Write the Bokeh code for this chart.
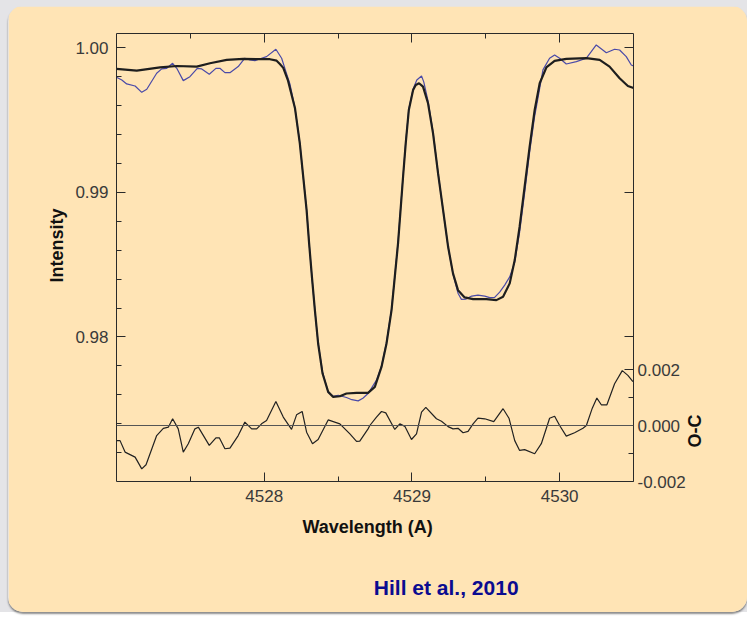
import math
from bokeh.plotting import figure
from bokeh.models import (Range1d, LinearAxis, FixedTicker, CustomJSTickFormatter,
                          NumeralTickFormatter, Span, Title, Label)
from bokeh.layouts import column
from bokeh.embed import file_html
from bokeh.resources import INLINE

# ---------------- data ----------------
wave_model = [4527.000, 4527.137, 4527.295, 4527.408, 4527.543, 4527.633, 4527.746, 4527.858,
              4528.039, 4528.084, 4528.106, 4528.129, 4528.160, 4528.208, 4528.241, 4528.264,
              4528.287, 4528.304, 4528.323, 4528.343, 4528.365, 4528.395, 4528.433, 4528.467,
              4528.512, 4528.557, 4528.625, 4528.703, 4528.749, 4528.794, 4528.828, 4528.862,
              4528.884, 4528.906, 4528.923, 4528.940, 4528.958, 4528.979, 4529.008, 4529.026,
              4529.048, 4529.075, 4529.109, 4529.143, 4529.177, 4529.211, 4529.245, 4529.278,
              4529.312, 4529.357, 4529.414, 4529.504, 4529.572, 4529.617, 4529.662, 4529.696,
              4529.729, 4529.763, 4529.797, 4529.831, 4529.865, 4529.910, 4529.966, 4530.045,
              4530.181, 4530.271, 4530.338, 4530.406, 4530.462, 4530.500]
int_model = [0.99855, 0.99843, 0.99866, 0.99875, 0.99871, 0.99894, 0.99917, 0.99924,
             0.99922, 0.99912, 0.99889, 0.99862, 0.99778, 0.99585, 0.99340, 0.99109,
             0.98878, 0.98648, 0.98416, 0.98186, 0.97955, 0.97747, 0.97620, 0.97585,
             0.97590, 0.97609, 0.97613, 0.97613, 0.97655, 0.97793, 0.97955, 0.98186,
             0.98416, 0.98648, 0.98878, 0.99109, 0.99340, 0.99571, 0.99709, 0.99744,
             0.99756, 0.99732, 0.99617, 0.99409, 0.99132, 0.98878, 0.98624, 0.98440,
             0.98324, 0.98274, 0.98262, 0.98262, 0.98255, 0.98278, 0.98371, 0.98532,
             0.98763, 0.99040, 0.99317, 0.99571, 0.99756, 0.99865, 0.99910, 0.99924,
             0.99929, 0.99917, 0.99871, 0.99790, 0.99737, 0.99723]

wave_obs = [4527.000, 4527.036, 4527.069, 4527.126, 4527.171, 4527.205, 4527.272, 4527.306,
            4527.340, 4527.380, 4527.408, 4527.452, 4527.497, 4527.547, 4527.577, 4527.628,
            4527.673, 4527.700, 4527.734, 4527.768, 4527.824, 4527.869, 4527.903, 4527.937,
            4527.982, 4528.016, 4528.079, 4528.118, 4528.143, 4528.174, 4528.208, 4528.241,
            4528.264, 4528.287, 4528.304, 4528.323, 4528.343, 4528.365, 4528.395, 4528.433,
            4528.467, 4528.501, 4528.557, 4528.593, 4528.636, 4528.668, 4528.703, 4528.760,
            4528.794, 4528.828, 4528.862, 4528.884, 4528.906, 4528.923, 4528.940, 4528.958,
            4528.979, 4529.008, 4529.033, 4529.065, 4529.080, 4529.109, 4529.143, 4529.177,
            4529.211, 4529.245, 4529.278, 4529.312, 4529.335, 4529.364, 4529.405, 4529.447,
            4529.493, 4529.527, 4529.560, 4529.594, 4529.628, 4529.662, 4529.696, 4529.729,
            4529.763, 4529.797, 4529.831, 4529.851, 4529.887, 4529.932, 4529.966, 4530.000,
            4530.045, 4530.113, 4530.181, 4530.214, 4530.248, 4530.316, 4530.372, 4530.406,
            4530.451, 4530.485, 4530.500]
int_obs = [0.99797, 0.99778, 0.99751, 0.99737, 0.99693, 0.99714, 0.99825, 0.99855,
           0.99859, 0.99894, 0.99859, 0.99774, 0.99801, 0.99859, 0.99855, 0.99818,
           0.99859, 0.99859, 0.99829, 0.99829, 0.99871, 0.99929, 0.99917, 0.99912,
           0.99929, 0.99940, 0.99991, 0.99929, 0.99848, 0.99751, 0.99585, 0.99342,
           0.99107, 0.98878, 0.98650, 0.98414, 0.98186, 0.97957, 0.97756, 0.97618,
           0.97590, 0.97597, 0.97581, 0.97566, 0.97558, 0.97576, 0.97609, 0.97701,
           0.97798, 0.97964, 0.98193, 0.98421, 0.98657, 0.98885, 0.99114, 0.99349,
           0.99578, 0.99716, 0.99778, 0.99806, 0.99765, 0.99633, 0.99418, 0.99134,
           0.98878, 0.98622, 0.98435, 0.98303, 0.98260, 0.98262, 0.98283, 0.98290,
           0.98283, 0.98272, 0.98274, 0.98310, 0.98359, 0.98416, 0.98518, 0.98726,
           0.98996, 0.99280, 0.99529, 0.99640, 0.99848, 0.99929, 0.99952, 0.99929,
           0.99889, 0.99905, 0.99929, 0.99974, 1.00021, 0.99967, 0.99991, 0.99986,
           0.99940, 0.99882, 0.99875]

wave_oc = [4527.000, 4527.024, 4527.058, 4527.126, 4527.171, 4527.200, 4527.272, 4527.317,
           4527.351, 4527.380, 4527.418, 4527.452, 4527.486, 4527.531, 4527.554, 4527.628,
           4527.673, 4527.696, 4527.734, 4527.768, 4527.824, 4527.869, 4527.915, 4527.949,
           4527.982, 4528.016, 4528.079, 4528.129, 4528.185, 4528.219, 4528.257, 4528.287,
           4528.327, 4528.365, 4528.433, 4528.512, 4528.580, 4528.625, 4528.647, 4528.703,
           4528.715, 4528.760, 4528.794, 4528.823, 4528.884, 4528.918, 4528.952, 4528.997,
           4529.031, 4529.065, 4529.094, 4529.166, 4529.200, 4529.245, 4529.278, 4529.312,
           4529.346, 4529.380, 4529.414, 4529.447, 4529.493, 4529.554, 4529.617, 4529.657,
           4529.696, 4529.729, 4529.763, 4529.831, 4529.876, 4529.932, 4529.966, 4530.000,
           4530.045, 4530.101, 4530.158, 4530.181, 4530.221, 4530.252, 4530.282, 4530.320,
           4530.372, 4530.424, 4530.462, 4530.496]
oc = [-0.00054, -0.00054, -0.00095, -0.00113, -0.00155, -0.00140, -0.00036, -0.00010,
      -0.00006, 0.00024, -0.00012, -0.00095, -0.00065, -0.00012, -0.00006, -0.00071,
      -0.00044, -0.00044, -0.00083, -0.00081, -0.00036, 0.00012, -0.00012, -0.00012,
      0.00006, 0.00018, 0.00086, 0.00030, -0.00014, 0.00038, 0.00050, -0.00024,
      -0.00065, -0.00050, 0.00020, 0.00006, -0.00030, -0.00057, -0.00056, -0.00012,
      0.00000, 0.00030, 0.00050, 0.00045, -0.00014, 0.00006, -0.00003, -0.00050,
      -0.00030, 0.00048, 0.00065, 0.00024, 0.00015, -0.00004, -0.00012, -0.00010,
      -0.00026, -0.00021, 0.00006, 0.00026, 0.00024, 0.00014, 0.00060, 0.00026,
      -0.00054, -0.00089, -0.00086, -0.00101, -0.00065, 0.00026, 0.00033, 0.00000,
      -0.00038, -0.00026, -0.00010, 0.00000, 0.00062, 0.00098, 0.00074, 0.00074,
      0.00149, 0.00196, 0.00179, 0.00157]

x_ticks = [4528, 4529, 4530]
x_minor = [4527.5, 4528.5, 4529.5]
y_ticks = [0.98, 0.99, 1.00]
y_minor = [0.972, 0.974, 0.976, 0.978, 0.982, 0.984, 0.986, 0.988,
           0.992, 0.994, 0.996, 0.998]
oc_ticks = [-0.002, 0.0, 0.002]
oc_minor = [-0.001, 0.001]

X0, X1 = 4527.0, 4530.5
Y0, Y1 = 0.970, 1.001
OC0, OC1 = -0.002, 0.014


def oc_to_int(v):
    return Y0 + (v - OC0) / (OC1 - OC0) * (Y1 - Y0)


def int_to_oc(i):
    return OC0 + (i - Y0) / (Y1 - Y0) * (OC1 - OC0)


# ---------------- style ----------------
PEACH = "#FFE4B5"
OUTER = "#E4E4E7"
FONT = "Liberation Sans"
TICK_COLOR = "#3a3a3a"
AXIS_COLOR = "#2a2a2a"
TICK_SIZE = "17px"

p = figure(frame_width=517, frame_height=448,
           min_border_left=108, min_border_right=114,
           min_border_top=27, min_border_bottom=131,
           x_range=Range1d(X0, X1), y_range=Range1d(Y0, Y1),
           output_backend="svg", toolbar_location=None, tools="")
p.extra_y_ranges = {"oc": Range1d(OC0, OC1)}
p.background_fill_color = PEACH
p.border_fill_color = PEACH
p.outline_line_color = None
p.xgrid.visible = False
p.ygrid.visible = False
p.styles = {"border-radius": "15px", "overflow": "hidden",
            "box-shadow": "0px 2px 2px rgba(0,0,0,0.45)"}


def style_axis(ax):
    ax.axis_line_color = AXIS_COLOR
    ax.axis_line_width = 1
    ax.major_tick_line_color = AXIS_COLOR
    ax.minor_tick_line_color = AXIS_COLOR
    ax.major_tick_in = 9
    ax.major_tick_out = 0
    ax.minor_tick_in = 5
    ax.minor_tick_out = 0
    ax.major_label_text_font = FONT
    ax.major_label_text_font_size = TICK_SIZE
    ax.major_label_text_color = TICK_COLOR


# bottom axis
xa = p.xaxis[0]
xa.ticker = FixedTicker(ticks=x_ticks, minor_ticks=x_minor)
xa.formatter = NumeralTickFormatter(format="0")
style_axis(xa)
xa.major_label_standoff = 8

# left axis
ya = p.yaxis[0]
ya.ticker = FixedTicker(ticks=y_ticks, minor_ticks=y_minor)
ya.formatter = NumeralTickFormatter(format="0.00")
style_axis(ya)
ya.major_label_standoff = 8

# top axis (ticks only)
ta = LinearAxis(ticker=FixedTicker(ticks=x_ticks, minor_ticks=x_minor),
                formatter=CustomJSTickFormatter(code='return "";'))
style_axis(ta)
p.add_layout(ta, "above")

# right axis (O-C) with mirrored intensity ticks
mirror = [int_to_oc(v) for v in y_ticks]
ra = LinearAxis(y_range_name="oc",
                ticker=FixedTicker(ticks=oc_ticks + mirror, minor_ticks=oc_minor),
                formatter=CustomJSTickFormatter(
                    code='return Math.abs(tick) < 0.0025 ? tick.toFixed(3) : "";'))
style_axis(ra)
ra.major_label_standoff = 4
p.add_layout(ra, "right")

# zero line of the residuals
p.add_layout(Span(location=oc_to_int(0.0), dimension="width",
                  line_color="#555555", line_width=1))

# curves
p.line(wave_obs, int_obs, line_color="#4a4aa8", line_width=1.2)
p.line(wave_model, int_model, line_color="#1e1e1e", line_width=2.2)
p.line(wave_oc, oc, y_range_name="oc", line_color="#222222", line_width=1.2)


# axis titles (as side-panel titles)
def side_title(text, size, color, align, offset, standoff):
    return Title(text=text, align=align, offset=offset, standoff=standoff,
                 text_font=FONT, text_font_style="bold", text_font_size=size,
                 text_color=color)


p.add_layout(side_title("Intensity", "18px", "#111111", "left", 199, 12), "left")
p.add_layout(side_title("Wavelength (A)", "18px", "#111111", "left", 186, 21), "below")

# O-C label, read bottom-to-top, in the right side panel
p.add_layout(Label(x=X1, y=oc_to_int(-0.0002), x_offset=61, angle=math.pi / 2,
                   text="O-C", text_font=FONT, text_font_style="bold",
                   text_font_size="18px", text_color="#111111",
                   text_align="center", text_baseline="middle"), "right")

# citation, in the bottom side panel
p.add_layout(Label(x=4529.232, y=Y0, y_offset=-106,
                   text="Hill et al., 2010", text_font=FONT, text_font_style="bold",
                   text_font_size="21px", text_color="#0b0b90",
                   text_align="center", text_baseline="middle"), "below")

layout = column(p, styles={"background-color": OUTER, "padding": "6px 0px 0px 8px"})

open("out.html", "w").write(file_html(layout, INLINE))
